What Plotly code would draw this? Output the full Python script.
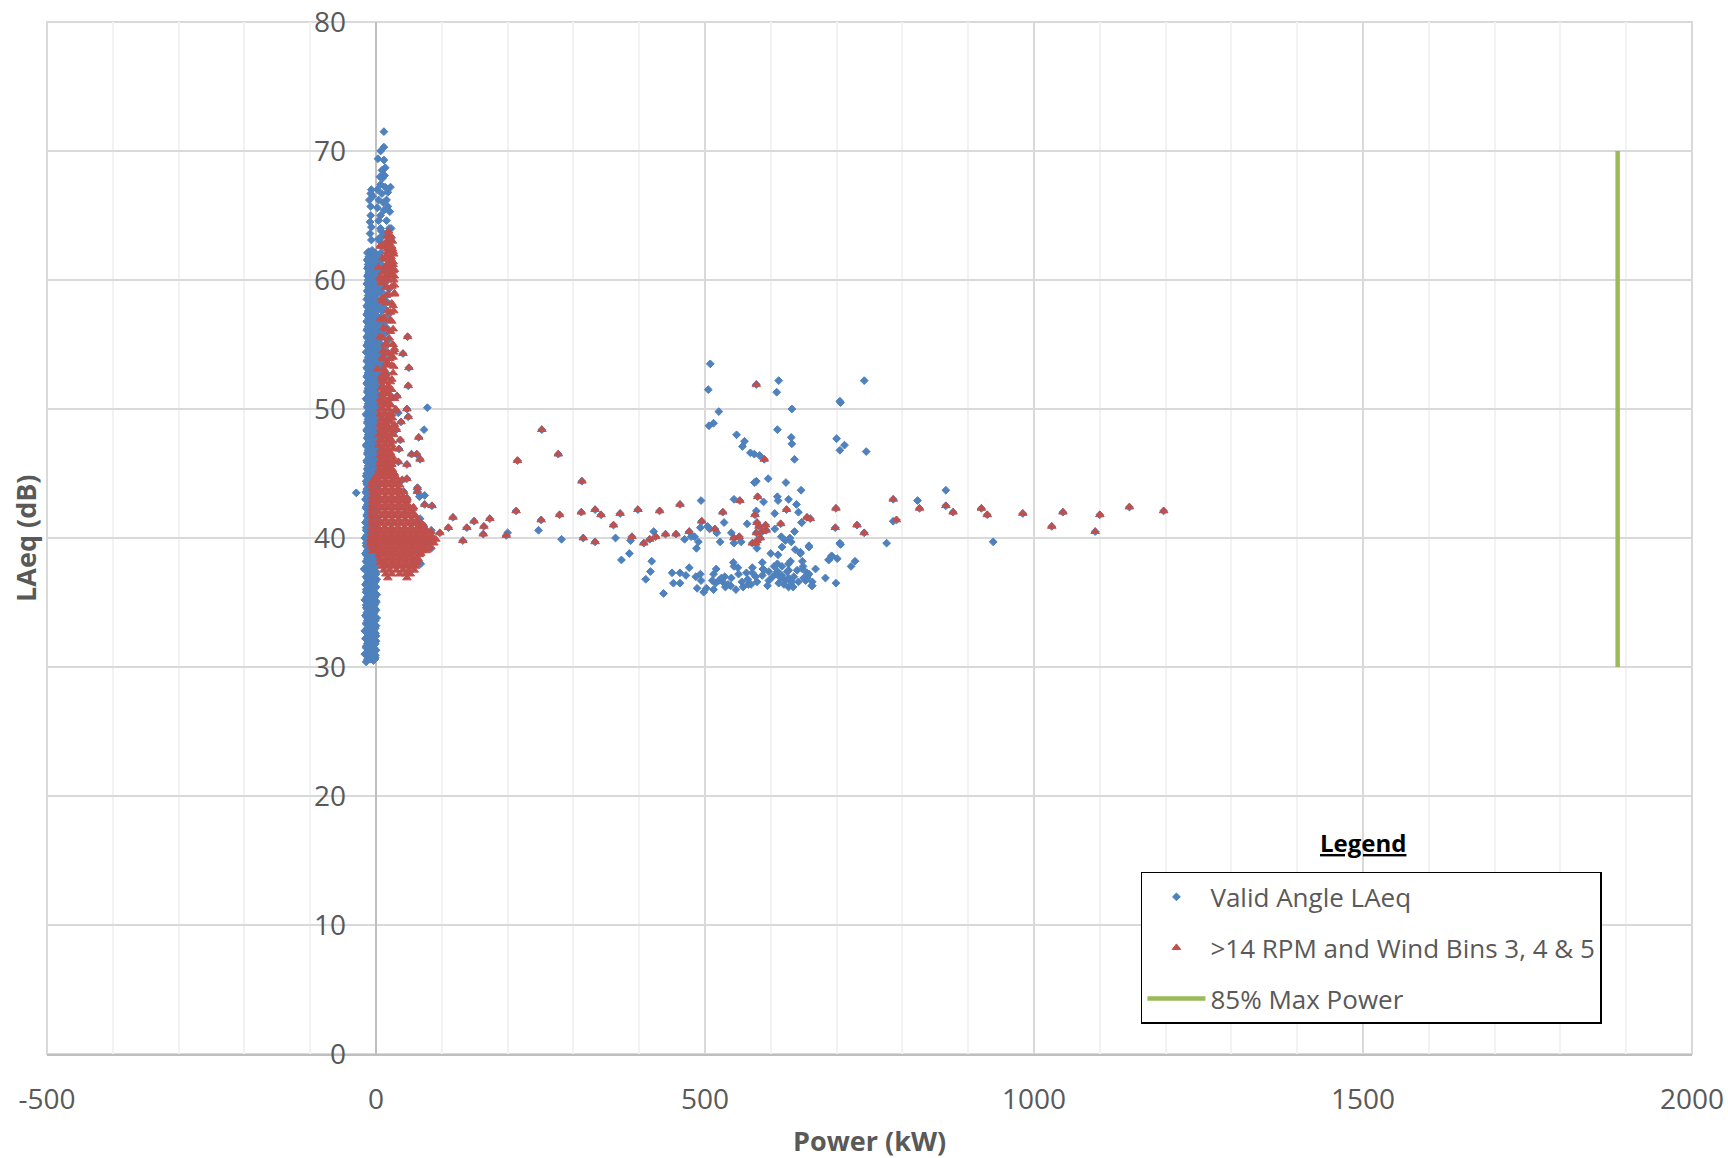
import plotly.graph_objects as go

# Saturated blue column near 0 kW, read as a band of overlapping markers
blue_body_x = [
 -15,-4,-11,-1,-17,-5,-10,0,-15,-4,
 -11,0,-16,-5,-10,-1,-17,-4,-11,0,
 -15,-5,-10,1,-16,-4,-12,0,-15,-5,
 -10,0,-17,-4,-11,1,-15,-5,-10,0,
 -16,-4,-11,1,-15,-5,-10,0,-18,-4,
 -11,1,-15,-5,-10,0,-16,-4,-11,1,
 -15,-5,-10,0,-17,-4,-11,1,-15,-5,
 -10,0,-16,-4,-11,1,-14,-5,-10,0,
 -15,-4,-11,1,-16,-5,-10,0,-15,-4,
 -11,1,-14,-5,-10,0,-15,-4,-11,1,
 -13,-4,-9,1,-14,-5,-10,2,-13,-4,
 -9,1,-15,-5,-10,2,-13,-4,-9,1,
 -14,-5,-10,2,-13,-4,-9,1,-15,-5,
 -10,2,-13,-4,-9,1,-15,-5,-10,2,
 -13,-4,-9,3,-14,-5,-10,2,-13,-3,
 -9,3,-14,-5,-10,2,-13,-4,-9,3,
 -15,-4,-10,2,-13,-5,-9,3,-14,-4,
 -10,2,-13,-5,-9,3,-14,-4,-10,2,
 -13,-5,-9,3,-14,-4,-10,2,-12,-5,
 -9,3,-13,-4,-10,2,-12,-5,-9,3,
 -12,-4,-10,2,-12,-5,-9,3,-13,-4,
]
blue_body_y = [
 30.4,30.5,30.7,30.7,31.0,31.1,31.3,31.3,31.6,31.7,
 31.9,32.0,32.2,32.2,32.5,32.6,32.8,32.8,33.1,33.2,
 33.4,33.4,33.7,33.8,34.0,34.0,34.3,34.4,34.6,34.6,
 34.9,35.0,35.2,35.2,35.5,35.6,35.8,35.8,36.1,36.2,
 36.4,36.4,36.7,36.8,37.0,37.0,37.3,37.4,37.6,37.6,
 37.9,38.0,38.2,38.2,38.5,38.6,38.8,38.8,39.1,39.2,
 39.4,39.4,39.7,39.8,40.0,40.0,40.3,40.4,40.6,40.6,
 40.9,41.0,41.2,41.2,41.5,41.6,41.8,41.8,42.1,42.2,
 42.4,42.4,42.7,42.8,43.0,43.0,43.3,43.4,43.6,43.6,
 43.9,44.0,44.2,44.2,44.5,44.6,44.8,44.8,45.1,45.2,
 45.4,45.4,45.7,45.8,46.0,46.0,46.3,46.4,46.6,46.6,
 46.9,47.0,47.2,47.2,47.5,47.6,47.8,47.8,48.1,48.2,
 48.4,48.4,48.7,48.8,49.0,49.0,49.3,49.4,49.6,49.6,
 49.9,50.0,50.2,50.2,50.5,50.6,50.8,50.8,51.1,51.2,
 51.4,51.4,51.7,51.8,52.0,52.0,52.3,52.4,52.6,52.6,
 52.9,53.0,53.2,53.2,53.5,53.6,53.8,53.8,54.1,54.2,
 54.4,54.4,54.7,54.8,55.0,55.0,55.3,55.4,55.6,55.6,
 55.9,56.0,56.2,56.2,56.5,56.6,56.8,56.8,57.1,57.2,
 57.4,57.4,57.7,57.8,58.0,58.0,58.3,58.4,58.6,58.6,
 58.9,59.0,59.2,59.2,59.5,59.6,59.8,59.8,60.1,60.2,
 60.4,60.4,60.7,60.8,61.0,61.0,61.3,61.4,61.6,61.6,
]
blue_fill_x = [
 -9,-6,-10,-5,-9,-6,-10,-4,-9,-5,
 -10,-6,-9,-5,-11,-6,-9,-4,-10,-6,
 -9,-5,-10,-6,-9,-5,-11,-6,-9,-4,
 -10,-6,-9,-5,-10,-6,-9,-5,-11,-6,
 -8,-5,-9,-4,-8,-5,-9,-4,-8,-5,
 -7,-4,-8,-3,-7,-4,-8,-3,-7,-4,
 -7,-3,-8,-4,-7,-3,-8,-4,-7,-3,
 -8,-4,-7,-3,-8,-4,-7,-3,-8,-4,
 -7,-3,-8,-4,-7,-3,-8,-4,-7,-3,
 -8,-4,-7,-3,-8,-4,-7,-3,-8,-4,
 -7,-3,-8,-4,-7,-3,
]
blue_fill_y = [
 30.6,30.9,31.2,31.5,31.8,32.1,32.4,32.7,33.0,33.3,
 33.6,33.9,34.2,34.5,34.8,35.1,35.4,35.7,36.0,36.3,
 36.6,36.9,37.2,37.5,37.8,38.1,38.4,38.7,39.0,39.3,
 39.6,39.9,40.2,40.5,40.8,41.1,41.4,41.7,42.0,42.3,
 42.6,42.9,43.2,43.5,43.8,44.1,44.4,44.7,45.0,45.3,
 45.6,45.9,46.2,46.5,46.8,47.1,47.4,47.7,48.0,48.3,
 48.6,48.9,49.2,49.5,49.8,50.1,50.4,50.7,51.0,51.3,
 51.6,51.9,52.2,52.5,52.8,53.1,53.4,53.7,54.0,54.3,
 54.6,54.9,55.2,55.5,55.8,56.1,56.4,56.7,57.0,57.3,
 57.6,57.9,58.2,58.5,58.8,59.1,59.4,59.7,60.0,60.3,
 60.6,60.9,61.2,61.5,61.8,62.1,
]
blue_fill_left_x = [
 -13,-14,-13,-15,-13,-14,-12,-15,-13,-14,
 -13,-15,-14,-13,-15,-12,-14,-13,-15,-14,
 -13,-14,-12,-15,-13,-14,-13,-15,-14,-13,
 -15,-12,-14,-13,-15,-14,-13,-14,-12,-15,
 -13,-14,-13,-15,-14,-13,-15,-12,-14,-13,
 -12,-14,-11,-13,-12,-14,-11,-13,-12,-14,
 -11,-13,-12,-14,-11,-13,-12,-14,-11,-13,
 -12,-13,-11,-14,-12,-13,-11,-14,-12,-13,
 -11,-14,-12,-13,-11,-14,-12,-13,-11,-14,
 -12,-13,-11,-14,-12,-13,-11,-14,-12,-13,
 -11,-13,-12,-13,-11,-13,
]
blue_fill_right_x = [
 -2,-1,-2,-3,-1,-2,0,-2,-1,-3,
 -1,-2,-3,-1,-2,0,-2,-1,-3,-2,
 -1,-2,0,-3,-1,-2,-1,-3,-2,-1,
 -2,0,-3,-1,-2,-2,-1,-3,0,-2,
 -1,-2,0,-2,-1,-2,0,-2,-1,-2,
 0,-1,1,-1,0,-1,1,-1,0,-1,
 1,-1,0,-1,1,-1,0,-1,1,-1,
 0,-1,1,-1,0,-1,1,-1,0,-1,
 1,-1,0,-1,1,-1,0,-1,1,-1,
 0,-1,1,-1,0,-1,1,-1,0,-1,
 1,-1,0,-1,1,-1,
]
blue_right_x = [
 6,12,8,15,5,11,9,17,6,13,
 8,14,6,18,9,13,7,16,10,14,
 7,19,9,13,6,17,10,15,8,20,
 7,14,9,18,6,13,10,21,8,15,
 7,19,9,14,6,22,10,16,8,20,
]
blue_right_y = [
 52.1,52.3,52.6,52.8,53.1,53.3,53.6,53.8,54.1,54.3,
 54.6,54.8,55.1,55.3,55.6,55.8,56.1,56.3,56.6,56.8,
 57.1,57.3,57.6,57.8,58.1,58.3,58.6,58.8,59.1,59.3,
 59.6,59.8,60.1,60.3,60.6,60.8,61.1,61.3,61.6,61.8,
 62.1,62.3,62.6,62.8,63.0,63.2,63.4,63.6,63.8,64.0,
]
blue_top_x = [12,12,7,3,12,14,9,10,7,-7,22,14,2,9,-10,16,4,-8,18,12,21,-8,7,16,-7,7,23,-9,4,-7,9,-11,-6,-9,-5,2,13,18,6,11,-8,4]
blue_top_y = [71.5,70.3,70,69.4,69.3,68.7,68.5,67.9,67.4,67,67.2,67.2,67,66.7,66.2,66.2,66.2,65.7,65.7,65.4,65.3,65,65,64.6,64.1,64,64,63.6,63.2,63.1,63.4,62.2,62.3,64.5,66.5,65.6,68.1,66.8,68,66,66.7,64.6]
blue_scatter_x = [-30,78,73,74,66,34,68,84,84,67,
 508,505,612,609,632,521,705,513,506,610,548,560,557,631,632,700,705,569,575,583,636,596,578,575,623,646,610,611,627,544,494,589,639,642,578,606,529,564,647,504,507,493,606,518,540,636,422,484,479,469,364,387,616,490,487,523,544,555,622,629,631,658,579,637,645,600,617,611,705,200,247,282,385,373,419,648,692,688,701,417,410,450,462,471,476,452,462,437,486,493,494,488,498,502,517,513,511,516,521,513,530,527,540,531,539,547,543,544,550,551,556,563,566,572,572,577,579,587,588,587,597,597,605,610,610,612,617,617,622,627,630,627,627,627,634,635,640,642,655,655,663,668,683,699,
 742,706,712,745,823,866,786,647,658,706,776,938,645,649,688,693,728,722,655,653,658,663,662,650,648,625,620,615,608,632,603,595,590,570,565,558,535,525]
blue_scatter_y = [43.5,50.1,48.4,43.3,43.2,49.7,38,40.6,39.2,41.5,
 53.5,51.5,52.2,51.3,50,49.8,50.6,48.9,48.7,48.4,48,47.5,47.1,47.8,47.3,47.7,46.8,46.6,46.5,46.4,46.1,44.6,44.4,44.3,44.3,43.7,43.2,42.9,43,43,42.9,42.8,42.6,42,42.1,41.9,41.2,41.1,41.2,40.9,40.7,40.8,40.7,40.4,40.4,40.5,40.5,40.1,40.1,39.9,40,39.8,40.1,39.7,39.2,39.7,39.6,39.7,39.8,40,39.7,39.4,39.2,39.1,38.9,38.8,39.3,38.7,39.6,40.4,40.6,39.9,38.8,38.3,38.2,38.2,38.6,38.3,38.4,37.4,36.8,37.3,37.3,37.1,37.7,36.5,36.5,35.7,37,37.2,36.7,36.1,35.8,36.1,37.6,37.2,36.7,36.5,36.7,36,37,36.6,36.9,36.2,36.3,36,38.1,37.8,37.7,37.2,36.6,37.3,36.4,37.7,37.3,37,36.6,38.1,37.6,37.1,37.4,36.7,37.8,38,37.4,36.5,37.8,37.1,36.7,38,38.2,37.5,36.9,36.2,36.2,37,37.5,36.6,37.3,36.9,36.3,37.6,36.9,36.5,
 52.2,50.5,47.2,46.7,42.9,43.7,41.3,41.2,39.3,39.5,39.6,39.7,38.8,37.8,38.3,38.6,38.2,37.8,37,36.7,37.2,36.6,36.3,36.9,37.6,37.4,36.4,36.9,37.2,36.6,37,36.3,37.5,36.4,36.8,36.2,36.4,36.9]

red_scatter_x = [97,110,117,132,138,149,164,163,173,198,213,215,251,252,277,279,312,313,315,333,333,342,361,371,389,398,407,416,425,431,440,456,462,476,495,515,527,544,552,553,578,580,576,579,590,624,615,655,660,699,698,572,577,579,584,578,582,592,593,587,
 731,742,786,791,826,866,877,920,929,983,1027,1044,1093,1100,1145,1197,
 49,47,49,38,65,54,62,67,47,63,63,74,85,48,50,41,28,
 37,35,34,47,40,42,47,56,62,72,32,30,31]
red_scatter_y = [40.4,40.8,41.6,39.8,40.8,41.3,40.9,40.3,41.5,40.2,42.1,46,41.4,48.4,46.5,41.8,42,44.4,40,42.2,39.7,41.8,41,41.9,40.1,42.2,39.6,39.9,40.1,42.1,40.3,40.3,42.6,40.5,41.3,40.7,42,40,40.1,42.9,51.9,43.2,41.8,41.2,46.1,42.2,41.1,41.6,41.5,42.3,40.8,39.6,39.6,39.8,40,40.4,40.9,41,40.6,40.5,
 41,40.4,43,41.4,42.3,42.5,42,42.3,41.8,41.9,40.9,42,40.5,41.8,42.4,42.1,
 51.8,50,49.4,49,47.8,46.5,46.5,46.1,45.7,43.9,43.6,42.6,42.5,55.6,53.2,54.3,54.6,
 47.6,46.9,45.9,44.6,44.5,43.6,43.1,42.3,41.1,41,51,49.9,48.4]

# Saturated red mass, read as a band of overlapping markers
red_dense_x = [
 18,47,
 15,24,36,45,52,
 12,21,31,41,50,58,
 9,18,28,38,48,60,
 7,14,24,34,44,54,62,
 6,17,27,37,47,57,64,
 5,12,22,32,42,52,66,
 -5,2,9,19,29,39,49,59,69,76,
 -7,3,13,23,33,43,53,63,73,82,
 -8,1,11,21,31,41,51,61,71,81,88,
 -8,6,16,26,36,46,56,66,76,86,91,
 -7,2,12,22,32,42,52,62,72,82,
 -7,7,17,27,37,47,57,67,77,84,
 -6,3,13,23,33,43,53,63,72,
 -7,8,18,28,38,48,58,68,
 -6,4,14,24,34,44,54,63,
 -7,9,19,29,39,49,58,
 -6,4,14,24,34,44,54,
 -6,8,18,28,38,48,53,
 -5,4,14,24,34,44,48,
 -5,8,18,28,38,46,
 -5,4,14,24,34,42,
 -4,8,18,28,37,
 -6,4,14,24,34,
 -7,8,18,28,36,
 -5,4,14,24,31,
 0,10,20,30,
 3,14,24,28,
 5,15,25,
 6,14,23,
 7,17,27,
 6,14,22,
 7,17,
 5,14,24,
 6,18,
 5,14,27,
 7,19,
 6,15,28,
 8,20,
 6,15,24,
 7,18,30,
 8,16,
 7,20,28,
 9,15,
 8,18,
 10,24,
 9,15,
 2,12,27,
 17,
 10,26,
 11,19,
 15,26,
 6,22,
 11,
 24,
 7,12,
 22,
 10,26,
 9,16,
 28,
 14,
 8,28,
 6,14,
 8,18,28,
 10,17,26,
 4,14,22,
 19,26,
 15,23,10,
 18,26,
 15,24,7,
 16,25,7,
 17,23,
 19,
]
red_dense_y = [
 36.9,36.9,
 37.2,37.2,37.2,37.2,37.2,
 37.5,37.5,37.5,37.5,37.5,37.5,
 37.8,37.8,37.8,37.8,37.8,37.8,
 38.1,38.1,38.1,38.1,38.1,38.1,38.1,
 38.4,38.4,38.4,38.4,38.4,38.4,38.4,
 38.7,38.7,38.7,38.7,38.7,38.7,38.7,
 39,39,39,39,39,39,39,39,39,39,
 39.3,39.3,39.3,39.3,39.3,39.3,39.3,39.3,39.3,39.3,
 39.6,39.6,39.6,39.6,39.6,39.6,39.6,39.6,39.6,39.6,39.6,
 39.9,39.9,39.9,39.9,39.9,39.9,39.9,39.9,39.9,39.9,39.9,
 40.2,40.2,40.2,40.2,40.2,40.2,40.2,40.2,40.2,40.2,
 40.5,40.5,40.5,40.5,40.5,40.5,40.5,40.5,40.5,40.5,
 40.8,40.8,40.8,40.8,40.8,40.8,40.8,40.8,40.8,
 41.1,41.1,41.1,41.1,41.1,41.1,41.1,41.1,
 41.4,41.4,41.4,41.4,41.4,41.4,41.4,41.4,
 41.7,41.7,41.7,41.7,41.7,41.7,41.7,
 42,42,42,42,42,42,42,
 42.3,42.3,42.3,42.3,42.3,42.3,42.3,
 42.6,42.6,42.6,42.6,42.6,42.6,42.6,
 42.9,42.9,42.9,42.9,42.9,42.9,
 43.2,43.2,43.2,43.2,43.2,43.2,
 43.5,43.5,43.5,43.5,43.5,
 43.8,43.8,43.8,43.8,43.8,
 44.1,44.1,44.1,44.1,44.1,
 44.4,44.4,44.4,44.4,44.4,
 44.7,44.7,44.7,44.7,
 45,45,45,45,
 45.3,45.3,45.3,
 45.7,45.7,45.7,
 46,46,46,
 46.4,46.4,46.4,
 46.8,46.8,
 47.2,47.2,47.2,
 47.6,47.6,
 48,48,48,
 48.4,48.4,
 48.8,48.8,48.8,
 49.2,49.2,
 49.6,49.6,49.6,
 50,50,50,
 50.4,50.4,
 50.8,50.8,50.8,
 51.2,51.2,
 51.6,51.6,
 52.2,52.3,
 52.6,52.7,
 53.1,53.1,53.3,
 53.6,
 54,54,
 54.5,54.3,
 55.1,55,
 55.6,56,
 56.3,
 56.8,
 57,57.1,
 57.5,
 58.4,58,
 58.6,58.8,
 59,
 59.4,
 59.8,59.6,
 60.2,60.2,
 60.1,60,60.3,
 60.6,60.6,60.7,
 61,61,61,
 61.4,61.4,
 61.8,61.8,61.7,
 62.2,62.2,
 62.6,62.6,62.6,
 63,63,62.7,
 63.4,63.4,
 63.8,
]
# Extra reading of the solid red strip between 45 and 64 dB
red_strip_x = [
 10,18,26,12,21,9,17,24,11,20,
 9,16,25,12,22,10,18,26,13,21,
 9,17,25,11,20,9,16,24,12,22,
 10,18,26,13,21,9,17,25,11,20,
 10,19,13,23,9,18,12,25,11,20,
 14,24,10,19,13,22,9,17,12,26,
 15,24,11,21,18,27,14,25,10,20,
 16,26,12,22,18,27,15,24,19,28,
 16,24,20,27,17,25,21,28,18,26,
 16,23,20,27,17,25,19,22,
]
red_strip_y = [
 45.1,45.1,45.1,45.4,45.4,45.7,45.7,45.7,46.0,46.0,
 46.3,46.3,46.3,46.6,46.6,46.9,46.9,46.9,47.2,47.2,
 47.5,47.5,47.5,47.8,47.8,48.1,48.1,48.1,48.4,48.4,
 48.7,48.7,48.7,49.0,49.0,49.3,49.3,49.3,49.6,49.6,
 50.0,50.0,50.3,50.3,50.6,50.6,50.9,50.9,51.2,51.2,
 51.5,51.5,51.8,51.8,52.1,52.1,52.4,52.4,52.8,52.8,
 53.4,53.4,53.9,53.9,54.4,54.4,55.0,55.0,55.5,55.5,
 56.2,56.2,56.9,56.9,57.6,57.6,58.2,58.2,58.9,58.9,
 59.5,59.5,60.0,60.0,60.4,60.4,60.8,60.8,61.2,61.2,
 61.6,61.6,62.0,62.0,62.4,62.4,62.8,63.2,
]
# Extra reading of the solid red mass between 38 and 45 dB
red_mass_x = [
 14,24,34,44,54,
 12,22,32,42,52,62,
 8,18,28,38,48,58,68,
 -2,8,18,28,38,48,58,68,78,
 -3,7,17,27,37,47,57,67,77,85,
 -4,6,16,26,36,46,56,66,76,86,
 -3,7,17,27,37,47,57,67,77,
 -2,8,18,28,38,48,58,68,
 -2,9,19,29,39,49,59,
 -1,9,19,29,39,49,57,
 -1,9,19,29,39,47,
 -1,9,19,29,38,
 0,9,19,29,
 0,9,19,29,
]
red_mass_y = [
 37.9,37.9,37.9,37.9,37.9,
 38.3,38.3,38.3,38.3,38.3,38.3,
 38.8,38.8,38.8,38.8,38.8,38.8,38.8,
 39.2,39.2,39.2,39.2,39.2,39.2,39.2,39.2,39.2,
 39.7,39.7,39.7,39.7,39.7,39.7,39.7,39.7,39.7,39.7,
 40.1,40.1,40.1,40.1,40.1,40.1,40.1,40.1,40.1,40.1,
 40.6,40.6,40.6,40.6,40.6,40.6,40.6,40.6,40.6,
 41.2,41.2,41.2,41.2,41.2,41.2,41.2,41.2,
 41.8,41.8,41.8,41.8,41.8,41.8,41.8,
 42.4,42.4,42.4,42.4,42.4,42.4,42.4,
 43.0,43.0,43.0,43.0,43.0,43.0,
 43.6,43.6,43.6,43.6,43.6,
 44.2,44.2,44.2,44.2,
 44.8,44.8,44.8,44.8,
]
assert len(blue_body_x) == len(blue_body_y)
assert len(blue_fill_x) == len(blue_fill_y)
assert len(blue_fill_left_x) == len(blue_fill_y)
assert len(blue_fill_right_x) == len(blue_fill_y)
assert len(blue_right_x) == len(blue_right_y)
assert len(blue_top_x) == len(blue_top_y)
assert len(blue_scatter_x) == len(blue_scatter_y)
assert len(red_scatter_x) == len(red_scatter_y)
assert len(red_dense_x) == len(red_dense_y)
assert len(red_strip_x) == len(red_strip_y)
assert len(red_mass_x) == len(red_mass_y)

power_85_x = [1887, 1887]
power_85_y = [30, 70]

x_tick_vals = [-500, 0, 500, 1000, 1500, 2000]
x_tick_text = ["-500", "0", "500", "1000", "1500", "2000"]
y_tick_vals = [0, 10, 20, 30, 40, 50, 60, 70, 80]
y_tick_text = ["0", "10", "20", "30", "40", "50", "60", "70", "80"]
series_names = ["Valid Angle LAeq", ">14 RPM and Wind Bins 3, 4 & 5", "85% Max Power"]

FONT = "Open Sans"
GREY = "#595959"

fig = go.Figure()
fig.add_trace(go.Scatter(
    x=blue_body_x + blue_fill_x + blue_fill_left_x + blue_fill_right_x + blue_right_x + blue_top_x + blue_scatter_x + red_scatter_x,
    y=blue_body_y + blue_fill_y + blue_fill_y + blue_fill_y + blue_right_y + blue_top_y + blue_scatter_y + red_scatter_y,
    mode="markers", name=series_names[0], legendgroup="a",
    marker=dict(symbol="diamond", size=6, color="#4f81bd", line=dict(color="#4f81bd", width=1)),
    cliponaxis=False))
fig.add_trace(go.Scatter(
    x=red_dense_x + red_strip_x + red_mass_x + red_scatter_x,
    y=red_dense_y + red_strip_y + red_mass_y + red_scatter_y,
    mode="markers", name=series_names[1], legendgroup="b",
    marker=dict(symbol="triangle-up", size=7.5, color="#c0504d", line=dict(color="#c0504d", width=1)),
    cliponaxis=False))
fig.add_trace(go.Scatter(
    x=power_85_x, y=power_85_y, mode="lines", name=series_names[2], legendgroup="c",
    line=dict(color="#9bbb59", width=4.5)))

fig.update_layout(
    width=1728, height=1158, autosize=False,
    margin=dict(l=47, r=36, t=22, b=104, autoexpand=False),
    paper_bgcolor="white", plot_bgcolor="white",
    font=dict(family=FONT, color=GREY, size=26),
    showlegend=True,
    legend=dict(
        x=0.665, y=0.1764, xanchor="left", yanchor="top",
        bordercolor="black", borderwidth=1.5, bgcolor="white",
        font=dict(family=FONT, size=26, color=GREY),
        itemwidth=58, itemsizing="trace", tracegroupgap=14,
        traceorder="grouped", entrywidth=397, entrywidthmode="pixels",
    ),
    xaxis=dict(
        range=[-500, 2000], tickmode="array", tickvals=x_tick_vals, ticktext=x_tick_text,
        automargin=False,
        showgrid=True, gridcolor="#d9d9d9", gridwidth=2,
        minor=dict(dtick=100, showgrid=True, gridcolor="#f2f2f2", gridwidth=2, ticks=""),
        zeroline=True, zerolinecolor="#bfbfbf", zerolinewidth=2,
        showline=True, linecolor="#bfbfbf", linewidth=2, ticks="",
        tickfont=dict(family=FONT, size=28, color=GREY), ticklabelstandoff=19,
    ),
    yaxis=dict(
        range=[0, 80], tickmode="array", tickvals=y_tick_vals, ticktext=y_tick_text,
        automargin=False, anchor="free", position=0.2,
        showgrid=True, gridcolor="#d9d9d9", gridwidth=2,
        zeroline=False, showline=False, ticks="",
        tickfont=dict(family=FONT, size=28, color=GREY), ticklabelstandoff=30,
    ),
    shapes=[dict(type="rect", xref="paper", yref="paper", x0=0, x1=1, y0=0, y1=1,
                 line=dict(color="#d9d9d9", width=2), layer="below")],
    annotations=[
        dict(text="<b>Power (kW)</b>", xref="paper", yref="paper", x=0.5, y=-0.0843,
             showarrow=False, font=dict(family=FONT, size=27, color=GREY), yanchor="middle"),
        dict(text="<b>LAeq (dB)</b>", xref="paper", yref="paper", x=-0.0134, y=0.5,
             showarrow=False, textangle=-90, font=dict(family=FONT, size=27, color=GREY),
             xanchor="center", yanchor="middle"),
        dict(text="<b><u>Legend</u></b>", xref="paper", yref="paper", x=0.8, y=0.2045,
             showarrow=False, font=dict(family=FONT, size=24, color="black"),
             xanchor="center", yanchor="middle"),
    ],
)
fig.write_html("out.html", post_script="document.body.style.margin='0';",
               config={"displayModeBar": False})
